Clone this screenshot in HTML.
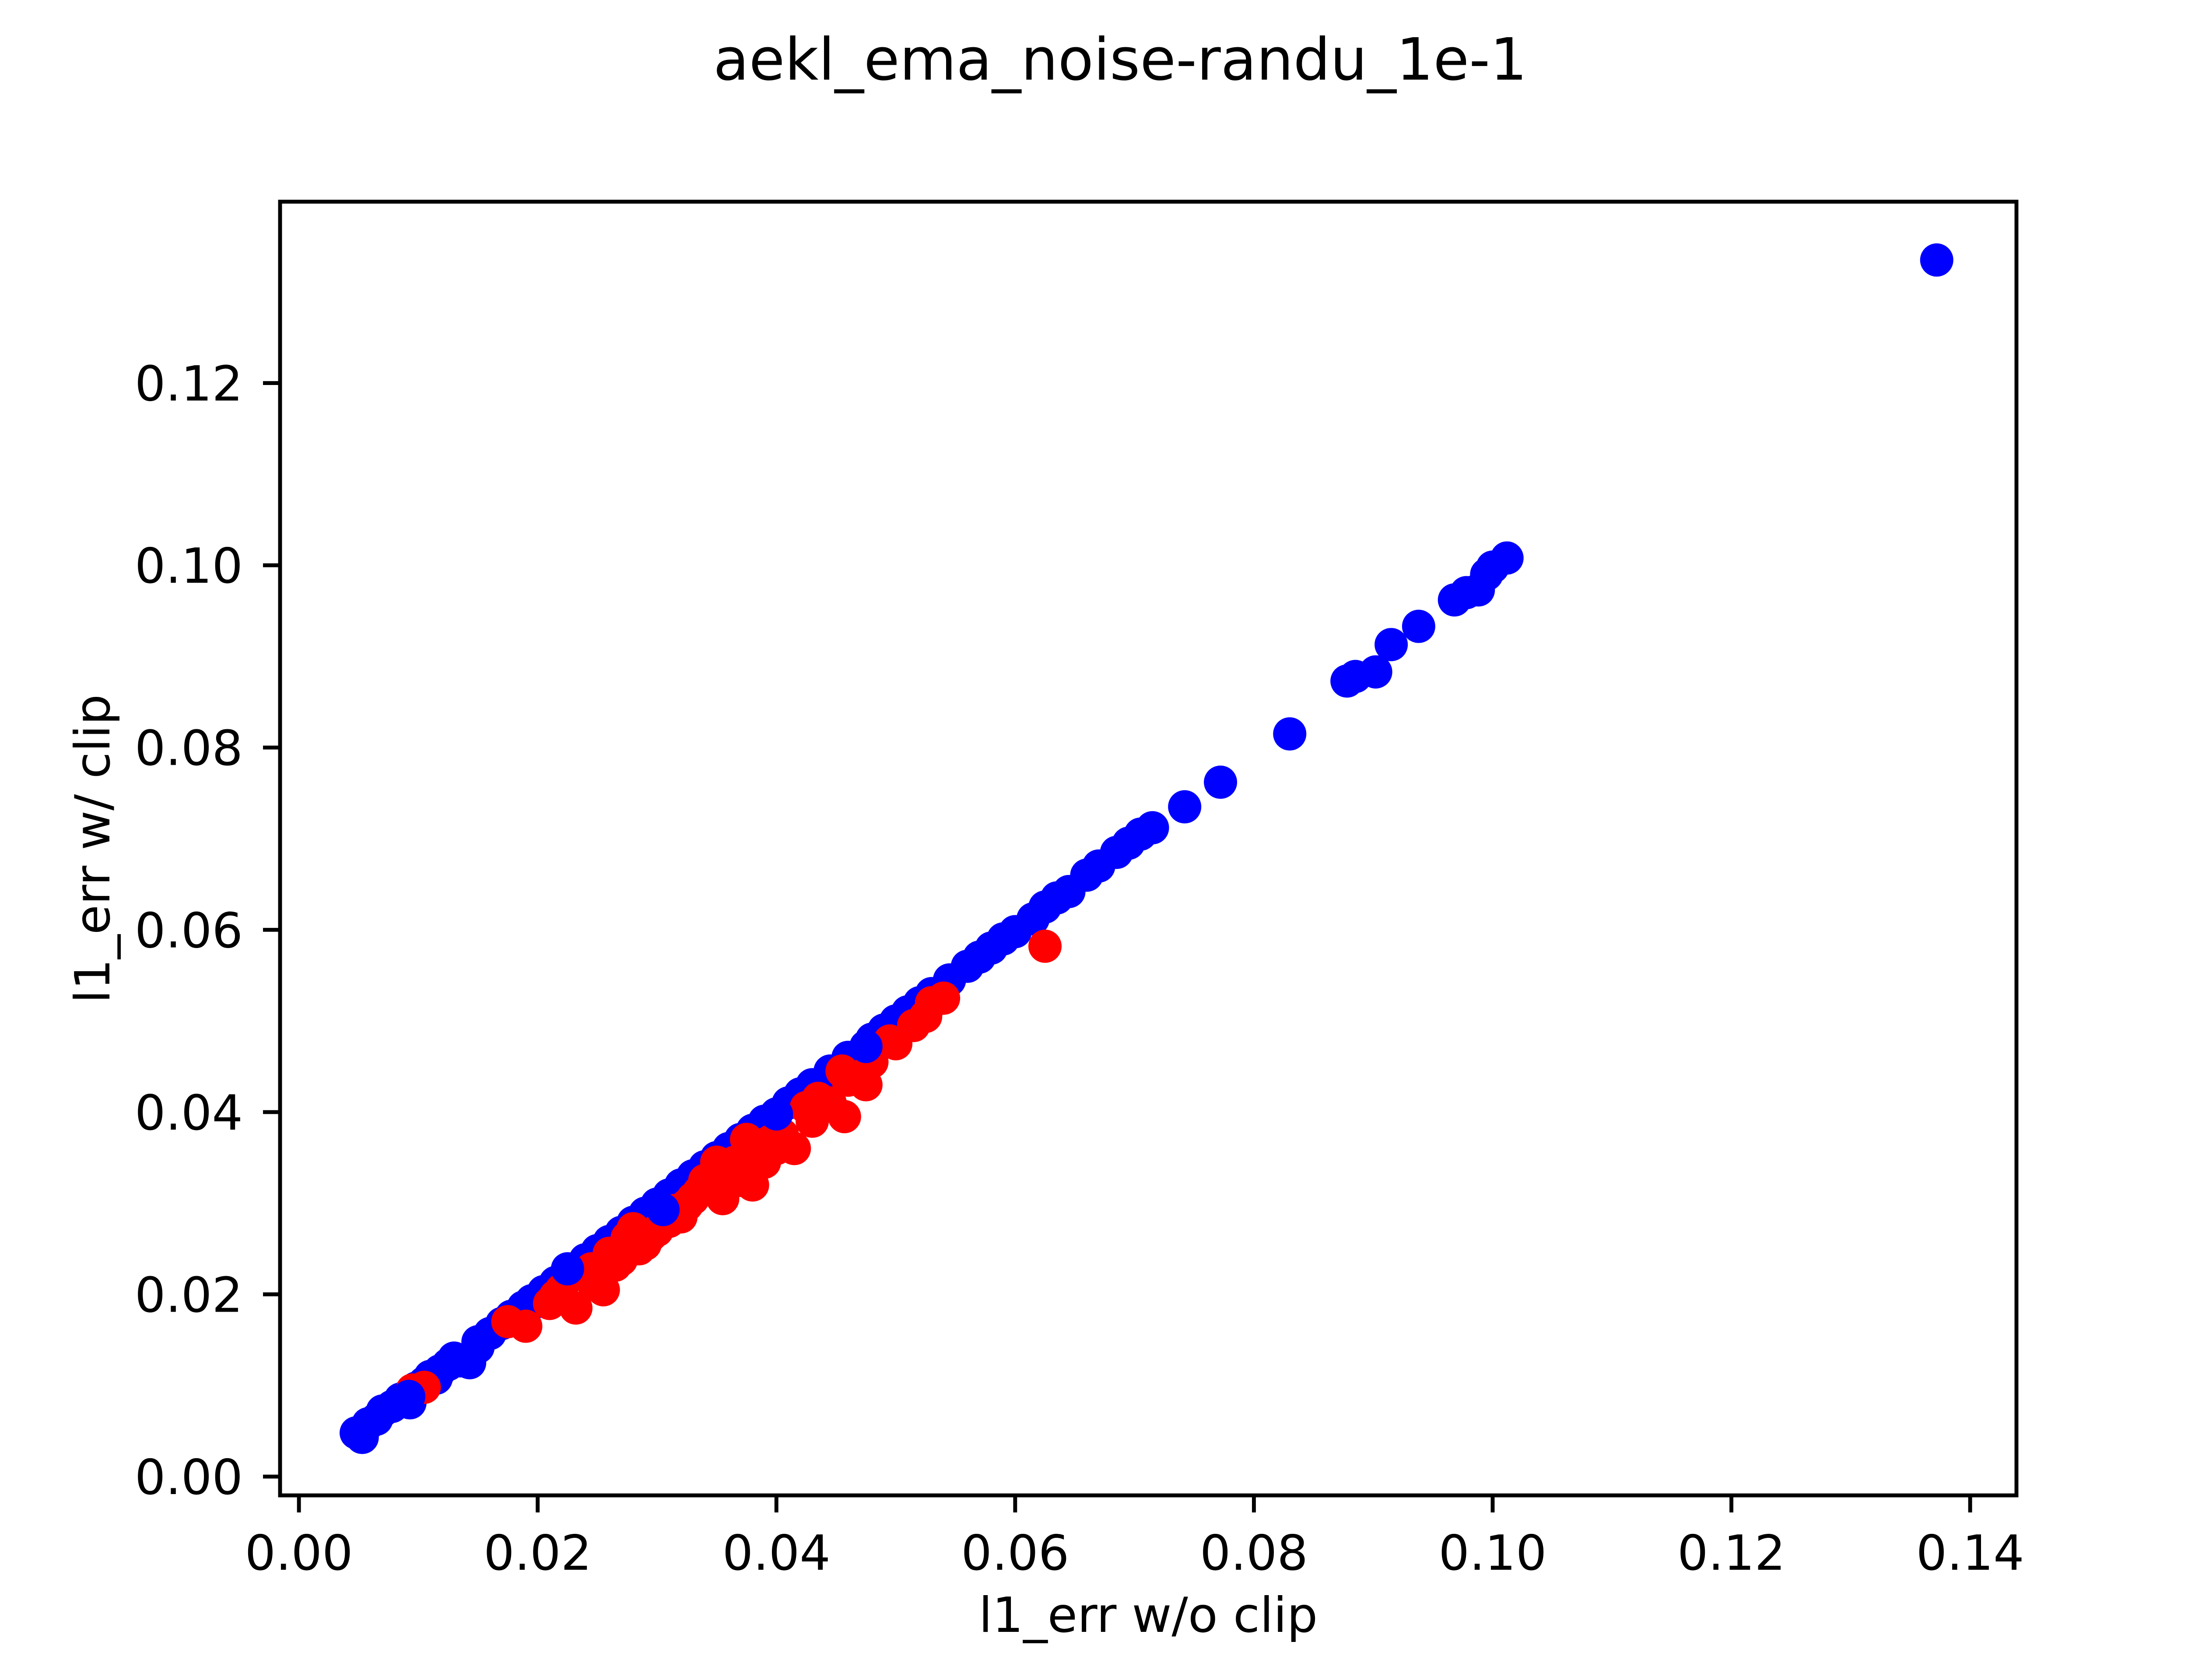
<!DOCTYPE html>
<html><head><meta charset="utf-8"><style>
html,body{margin:0;padding:0;background:#fff;}
svg{display:block;}
text{font-family:"DejaVu Sans","Liberation Sans",sans-serif;fill:#000;}
</style></head><body>
<svg id="chart" width="5120" height="3840" viewBox="0 0 5120 3840" xmlns="http://www.w3.org/2000/svg">
<rect width="5120" height="3840" fill="#fff"/>
<text x="2560" y="182" font-size="133" text-anchor="middle">aekl_ema_noise-randu_1e-1</text>
<g id="marks"></g>
<rect x="640" y="461" width="3968" height="2957" fill="none" stroke="#000" stroke-width="8.9"/>
<g id="xticks"></g>
<g id="yticks"></g>
<text x="2624" y="3730" font-size="111" text-anchor="middle">l1_err w/o clip</text>
<text x="0" y="0" font-size="111" text-anchor="middle" transform="translate(250,1940) rotate(-90)">l1_err w/ clip</text>
</svg>
<script>
const xTicks=[0,0.02,0.04,0.06,0.08,0.10,0.12,0.14];
const xTickLabels=["0.00","0.02","0.04","0.06","0.08","0.10","0.12","0.14"];
const yTicks=[0,0.02,0.04,0.06,0.08,0.10,0.12];
const yTickLabels=["0.00","0.02","0.04","0.06","0.08","0.10","0.12"];
const blueX=[0.0048,0.0053,0.0058,0.0065,0.007,0.0078,0.0085,0.009,0.0093,0.0098,0.0105,0.011,0.0118,0.0125,0.013,0.0138,0.0143,0.015,0.016,0.017,0.0178,0.0188,0.0195,0.0205,0.0215,0.023,0.024,0.025,0.026,0.027,0.028,0.029,0.03,0.031,0.032,0.033,0.034,0.035,0.036,0.037,0.038,0.039,0.041,0.042,0.043,0.0445,0.046,0.048,0.049,0.05,0.051,0.052,0.053,0.0545,0.056,0.057,0.058,0.059,0.06,0.0615,0.0625,0.0635,0.0645,0.066,0.067,0.0685,0.0695,0.0705,0.0715,0.0742,0.0772,0.083,0.0878,0.0885,0.0902,0.0915,0.0938,0.0968,0.0978,0.0988,0.0995,0.1,0.1012,0.1372,0.015,0.02,0.025,0.0115,0.0135];
const blueY=[0.0048,0.0043,0.0058,0.0063,0.0072,0.0077,0.0085,0.0088,0.0081,0.0097,0.0103,0.011,0.0116,0.0123,0.013,0.0128,0.0125,0.0148,0.0157,0.0168,0.0176,0.0186,0.0193,0.0203,0.0213,0.0222,0.0238,0.0248,0.0258,0.0268,0.0279,0.0289,0.0299,0.0309,0.032,0.033,0.034,0.035,0.036,0.037,0.038,0.039,0.041,0.042,0.043,0.0445,0.046,0.048,0.049,0.05,0.051,0.052,0.053,0.0545,0.056,0.057,0.058,0.059,0.0598,0.0612,0.0625,0.0635,0.0642,0.066,0.067,0.0685,0.0695,0.0705,0.0712,0.0735,0.0762,0.0815,0.0873,0.0878,0.0883,0.0913,0.0933,0.0962,0.097,0.0973,0.099,0.0998,0.1008,0.1335,0.0142,0.0192,0.024,0.0108,0.0127];
const redX=[0.0095,0.0105,0.0175,0.019,0.021,0.022,0.0232,0.0245,0.0255,0.026,0.027,0.0275,0.028,0.0285,0.029,0.03,0.031,0.032,0.033,0.034,0.035,0.0355,0.036,0.037,0.0375,0.038,0.039,0.04,0.0405,0.0415,0.043,0.0445,0.0457,0.046,0.0475,0.048,0.05,0.0515,0.053,0.054,0.0625,0.0215,0.0265,0.0295,0.0325,0.0345,0.0365,0.0385,0.0425,0.0435,0.0455,0.0495,0.0525,0.0315,0.0335,0.0395,0.0245];
const redY=[0.0095,0.0098,0.017,0.0165,0.019,0.0205,0.0185,0.0228,0.0205,0.0245,0.0238,0.0262,0.0272,0.025,0.0255,0.027,0.028,0.0285,0.0305,0.0325,0.0345,0.0305,0.033,0.0325,0.037,0.032,0.0345,0.036,0.0375,0.036,0.039,0.041,0.0395,0.0435,0.043,0.0455,0.0475,0.0495,0.052,0.0525,0.0582,0.0198,0.0232,0.0265,0.0298,0.0318,0.0345,0.0355,0.0405,0.0415,0.0445,0.0478,0.0505,0.0292,0.0312,0.0368,0.0215];
const topBlueX=[0.0225,0.0305,0.040,0.0475,0.0092];
const topBlueY=[0.0228,0.0293,0.0398,0.0472,0.0088];
const X0=-0.00158,X1=0.14388,Y0=-0.00206,Y1=0.1399;
const L=640,R=4608,T=461,B=3418;
function sx(v){return L+(v-X0)/(X1-X0)*(R-L);}
function sy(v){return B-(v-Y0)/(Y1-Y0)*(B-T);}
const NS="http://www.w3.org/2000/svg";
const marks=document.getElementById('marks');
function draw(xs,ys,color,name){
  for(let i=0;i<xs.length;i++){
    const c=document.createElementNS(NS,'circle');
    c.setAttribute('cx',sx(xs[i]));c.setAttribute('cy',sy(ys[i]));
    c.setAttribute('r',38);c.setAttribute('fill',color);
    
    
    marks.appendChild(c);
  }
}
draw(blueX,blueY,'#0000ff','blue-point');
draw(redX,redY,'#ff0000','red-point');
draw(topBlueX,topBlueY,'#0000ff','blue-point');
const xg=document.getElementById('xticks');
xTicks.forEach((v,i)=>{
  const l=document.createElementNS(NS,'line');
  l.setAttribute('x1',sx(v));l.setAttribute('x2',sx(v));l.setAttribute('y1',B);l.setAttribute('y2',B+39);
  l.setAttribute('stroke','#000');l.setAttribute('stroke-width',8.9);
  
  
  xg.appendChild(l);
  const t=document.createElementNS(NS,'text');
  t.setAttribute('x',sx(v));t.setAttribute('y',B+170);t.setAttribute('font-size',111);t.setAttribute('text-anchor','middle');
  t.textContent=xTickLabels[i];
  
  
  xg.appendChild(t);
});
const yg=document.getElementById('yticks');
yTicks.forEach((v,i)=>{
  const l=document.createElementNS(NS,'line');
  l.setAttribute('x1',L-39);l.setAttribute('x2',L);l.setAttribute('y1',sy(v));l.setAttribute('y2',sy(v));
  l.setAttribute('stroke','#000');l.setAttribute('stroke-width',8.9);
  
  
  yg.appendChild(l);
  const t=document.createElementNS(NS,'text');
  t.setAttribute('x',L-85);t.setAttribute('y',sy(v)+40);t.setAttribute('font-size',111);t.setAttribute('text-anchor','end');
  t.textContent=yTickLabels[i];
  
  
  yg.appendChild(t);
});
</script>
</body></html>
